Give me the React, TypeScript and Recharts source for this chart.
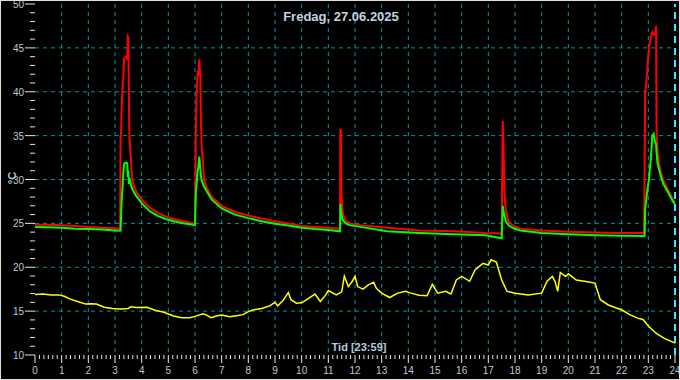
import { LineChart, Line, XAxis, YAxis, CartesianGrid, ReferenceLine } from 'recharts';

// red / green sensor readings (share the same time knots)
const sensorHours = [
  0, 0.5, 1.0, 1.5, 2.0, 2.5, 3.0, 3.19, 3.21, 3.23, 3.25, 3.29, 3.31, 3.34, 3.39, 3.44, 3.46, 3.48, 3.5, 3.52,
  3.54, 3.59, 3.64, 3.69, 3.8, 4.0, 4.3, 4.6, 4.9, 5.2, 5.5, 5.8, 6.0, 6.03, 6.06, 6.1, 6.13, 6.16, 6.2, 6.22,
  6.25, 6.29, 6.34, 6.45, 6.63, 7.0, 7.5, 8.0, 8.5, 9.0, 9.5, 10.0, 10.5, 11.0, 11.44, 11.45, 11.47, 11.49, 11.52, 11.56,
  11.65, 11.8, 12.2, 13.2, 14.4, 15.7, 16.9, 17.5, 17.54, 17.56, 17.6, 17.65, 17.75, 17.9, 18.2, 19.0, 20.0, 21.0, 22.0, 22.84,
  22.86, 22.88, 22.95, 23.02, 23.09, 23.15, 23.2, 23.25, 23.29, 23.31, 23.35, 23.4, 23.45, 23.56, 23.75, 23.94, 24.0,
];
const redTemp = [
  24.85, 24.85, 24.8, 24.7, 24.6, 24.5, 24.45, 24.4, 34.8, 35.5, 38.2, 40.9, 41.5, 43.7, 44.0, 44.0, 43.6, 46.3, 46.2, 40.0,
  34.8, 32.7, 30.1, 29.4, 28.6, 27.7, 26.8, 26.2, 25.8, 25.5, 25.3, 25.1, 25.0, 34.8, 39.9, 42.4, 41.8, 43.7, 41.6, 37.1,
  33.7, 32.2, 29.9, 29.0, 28.0, 27.0, 26.3, 25.9, 25.55, 25.25, 25.0, 24.7, 24.6, 24.5, 24.4, 35.8, 35.5, 28.8, 26.9, 25.9,
  25.3, 25.0, 24.8, 24.5, 24.2, 24.1, 23.9, 23.85, 36.7, 34.8, 28.8, 26.6, 25.3, 24.8, 24.4, 24.2, 24.05, 23.95, 23.9, 23.9,
  30.6, 39.9, 42.0, 44.9, 46.2, 46.8, 46.5, 46.6, 47.5, 35.2, 33.0, 31.8, 31.0, 29.9, 28.75, 27.6, 27.4,
];
const greenTemp = [
  24.6, 24.55, 24.5, 24.4, 24.35, 24.3, 24.2, 24.15, 24.2, 25.9, 27.5, 29.5, 30.7, 31.8, 31.9, 31.9, 31.8, 30.3, 31.0, 29.5,
  30.2, 29.5, 29.0, 28.7, 28.1, 27.3, 26.4, 25.85, 25.5, 25.25, 25.05, 24.9, 24.8, 28.4, 29.5, 31.0, 31.5, 32.6, 31.2, 30.5,
  29.9, 29.6, 29.2, 28.6, 27.7, 26.7, 26.0, 25.6, 25.25, 24.95, 24.75, 24.5, 24.35, 24.25, 24.1, 27.2, 26.6, 26.1, 25.6, 25.3,
  25.0, 24.8, 24.6, 24.1, 23.9, 23.75, 23.65, 23.3, 27.0, 26.5, 26.0, 25.3, 24.8, 24.5, 24.2, 23.9, 23.75, 23.65, 23.6, 23.55,
  23.6, 26.5, 28.5, 29.9, 32.2, 35.0, 35.2, 34.3, 34.0, 33.0, 31.8, 31.2, 30.6, 29.5, 28.5, 27.4, 27.2,
];

// yellow (outdoor) readings
const outdoorHours = [
  0, 0.3, 0.6, 0.9, 1.1, 1.3, 1.6, 1.9, 2.1, 2.3, 2.6, 2.9, 3.2, 3.5, 3.6, 3.8, 4.2, 4.5, 4.8, 5.2,
  5.5, 5.8, 6.0, 6.3, 6.4, 6.6, 6.8, 7.0, 7.3, 7.5, 7.8, 8.0, 8.2, 8.5, 8.8, 9.0, 9.1, 9.3, 9.5, 9.6,
  9.8, 10.0, 10.2, 10.5, 10.7, 10.9, 11.0, 11.3, 11.5, 11.6, 11.75, 11.9, 12.0, 12.1, 12.3, 12.5, 12.7, 12.8, 13.0, 13.3,
  13.6, 13.9, 14.1, 14.4, 14.7, 14.9, 15.1, 15.4, 15.6, 15.8, 16.0, 16.3, 16.5, 16.8, 17.0, 17.1, 17.3, 17.5, 17.7, 18.0,
  18.5, 19.0, 19.2, 19.4, 19.5, 19.6, 19.7, 19.9, 20.0, 20.3, 20.6, 21.0, 21.2, 21.5, 21.8, 22.0, 22.3, 22.6, 22.8, 23.0,
  23.3, 23.6, 24.0,
];
const outdoorTemp = [
  16.9, 16.95, 16.85, 16.85, 16.7, 16.4, 16.1, 15.8, 15.85, 15.8, 15.45, 15.3, 15.25, 15.3, 15.5, 15.4, 15.45, 15.1, 14.9, 14.45,
  14.25, 14.25, 14.4, 14.7, 14.6, 14.25, 14.45, 14.55, 14.35, 14.45, 14.6, 14.95, 15.15, 15.3, 15.6, 16.0, 15.6, 16.2, 17.1, 16.3,
  15.9, 15.95, 16.35, 16.95, 16.1, 16.85, 17.35, 16.85, 17.2, 19.0, 17.8, 18.4, 19.0, 17.8, 17.5, 18.0, 18.3, 17.6, 17.05, 16.55,
  17.05, 17.25, 17.05, 16.8, 16.75, 18.05, 17.05, 17.25, 16.95, 18.55, 18.95, 18.4, 19.7, 20.45, 20.25, 20.85, 20.6, 18.55, 17.25, 17.05,
  16.85, 17.05, 18.4, 18.95, 18.4, 17.25, 19.4, 18.95, 19.25, 18.55, 18.4, 18.2, 16.3, 15.7, 15.35, 15.15, 14.6, 14.2, 14.05, 13.3,
  12.45, 11.9, 11.35,
];

const gridTemps = [15, 20, 25, 30, 35, 40, 45];
const gridHours = [1, 2, 3, 4, 5, 6, 7, 8, 9, 10, 11, 12, 13, 14, 15, 16, 17, 18, 19, 20, 21, 22, 23];

const xTicks: number[] = [];
for (let i = 0; i <= 144; i++) xTicks.push(i / 6);
const yTicks: number[] = [];
for (let v = 10; v <= 50; v++) yTicks.push(v);

const redData = sensorHours.map((t, i) => ({ t, v: redTemp[i] }));
const greenData = sensorHours.map((t, i) => ({ t, v: greenTemp[i] }));
const outdoorData = outdoorHours.map((t, i) => ({ t, v: outdoorTemp[i] }));

const LABEL = '#b8cadc';
const FONT = '"Liberation Sans", Arial, sans-serif';

const XTick = ({ x, y, payload }: any) => {
  const v = payload.value as number;
  const major = Math.abs(v - Math.round(v)) < 1e-6;
  return (
    <g>
      <line x1={x} x2={x} y1={y} y2={y + (major ? 8 : 4)} stroke="#e6e6e6" />
      {major && (
        <text x={x} y={y + 19} textAnchor="middle" fill={LABEL} fontSize={10} fontFamily={FONT}>
          {Math.round(v)}
        </text>
      )}
    </g>
  );
};

const YTick = ({ x, y, payload }: any) => {
  const v = payload.value as number;
  const major = v % 5 === 0;
  return (
    <g>
      <line x1={x - (major ? 10 : 5)} x2={x} y1={y} y2={y} stroke="#e6e6e6" />
      {major && (
        <text x={x - 11} y={y + 4} textAnchor="end" fill={LABEL} fontSize={10} fontFamily={FONT}>
          {v}
        </text>
      )}
    </g>
  );
};

export default function App() {
  return (
    <div style={{ position: 'absolute', left: 0, top: 0, width: 680, height: 380, background: '#000', overflow: 'hidden' }}>
      <LineChart width={680} height={380} margin={{ top: 4, right: 5, bottom: 0, left: 0 }}>
        <CartesianGrid
          stroke="#009696"
          strokeDasharray="4 4"
          horizontalValues={gridTemps}
          verticalValues={gridHours}
        />
        <XAxis
          type="number"
          dataKey="t"
          domain={[0, 24]}
          ticks={xTicks}
          interval={0}
          tickSize={0}
          tickMargin={0}
          axisLine={false}
          tickLine={false}
          height={25}
          allowDataOverflow
          tick={(p: any) => <XTick {...p} />}
        />
        <YAxis
          type="number"
          dataKey="v"
          domain={[10, 50]}
          ticks={yTicks}
          interval={0}
          tickSize={0}
          tickMargin={0}
          axisLine={false}
          tickLine={false}
          width={35}
          allowDataOverflow
          tick={(p: any) => <YTick {...p} />}
        />
        <ReferenceLine x={24} stroke="#3fe4ff" strokeWidth={2} strokeDasharray="7 5" />
        <Line data={outdoorData} dataKey="v" stroke="#ffff00" strokeWidth={1.5} dot={false} isAnimationActive={false} />
        <Line data={redData} dataKey="v" stroke="#ff0000" strokeWidth={2} dot={false} isAnimationActive={false} />
        <Line data={greenData} dataKey="v" stroke="#00ff00" strokeWidth={2} dot={false} isAnimationActive={false} />
      </LineChart>
      <div style={{ position: 'absolute', left: 0, top: 9, width: 682, textAlign: 'center', color: '#c4d2e0', font: `bold 13px ${FONT}` }}>
        Fredag, 27.06.2025
      </div>
      <div style={{ position: 'absolute', left: 0, top: 341, width: 718, textAlign: 'center', color: LABEL, font: `bold 11px ${FONT}` }}>
        Tid [23:59]
      </div>
      <div style={{ position: 'absolute', left: 4, top: 171, width: 16, height: 14, transform: 'rotate(-90deg)', color: LABEL, font: `bold 11px ${FONT}`, textAlign: 'center', lineHeight: '14px' }}>
        °C
      </div>
      <div style={{ position: 'absolute', left: 0, top: 0, width: 680, height: 380, boxSizing: 'border-box', border: '1px solid #e0e0e0', pointerEvents: 'none' }} />
    </div>
  );
}
